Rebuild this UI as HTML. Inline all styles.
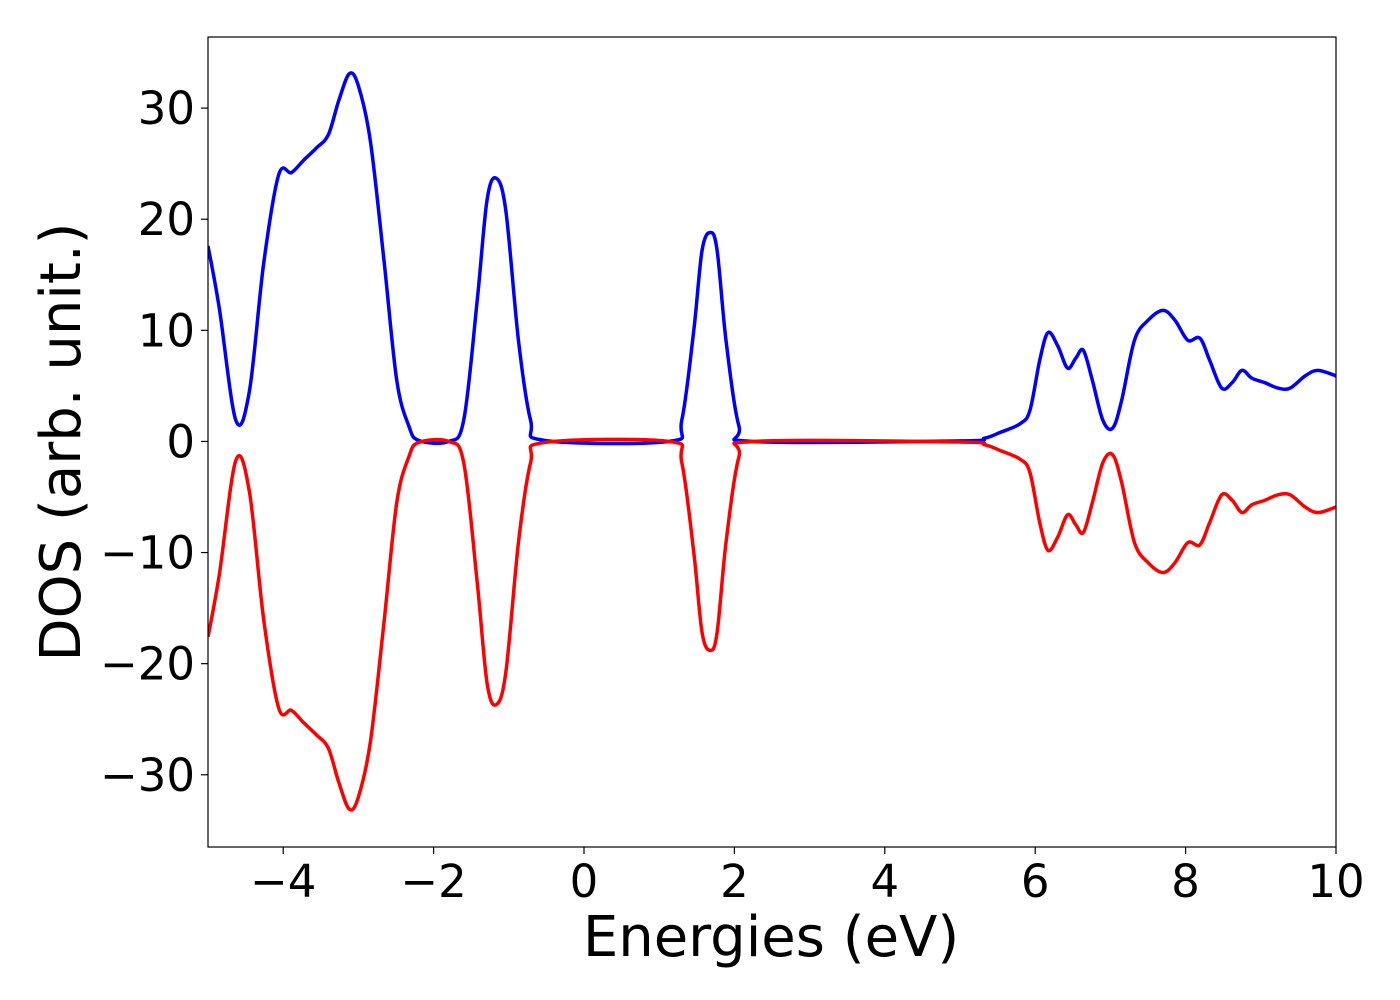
<!DOCTYPE html>
<html><head><meta charset="utf-8"><style>
body{margin:0;background:#fff}
svg{display:block;font-family:"DejaVu Sans","Liberation Sans",sans-serif}
</style></head><body>
<svg id="chart" width="1400" height="1000" viewBox="0 0 1400 1000"></svg>
<script>
const energies=[-5,-4.85,-4.63,-4.45,-4.26,-4.06,-3.89,-3.73,-3.56,-3.4,-3.26,-3.12,-3.0,-2.84,-2.66,-2.49,-2.33,-2.2,-1.8,-1.6,-1.42,-1.29,-1.17,-1.04,-0.87,-0.71,-0.53,1.13,1.3,1.46,1.57,1.68,1.77,1.89,2.06,2.26,5.0,5.33,5.53,5.8,5.93,6.06,6.17,6.3,6.43,6.54,6.64,6.76,6.9,7.03,7.15,7.32,7.5,7.7,7.86,8.03,8.19,8.32,8.48,8.62,8.75,8.88,9.05,9.23,9.39,9.59,9.76,10];
const dosUp=[17.6,12,1.9,4.5,16,24,24.2,25.3,26.4,27.6,30.7,33.1,32,27,16.3,5.5,1.4,0.1,0,1.9,12.7,21.7,23.7,20.8,9,1.9,0.1,0,1.9,10,17.2,18.8,17.2,9,1.4,0,0.05,0.3,0.8,1.6,2.8,7.3,9.8,8.6,6.6,7.5,8.2,5.5,1.9,1.2,3.7,9.1,10.9,11.8,10.9,9.1,9.3,7.3,4.8,5.3,6.4,5.7,5.3,4.8,4.8,5.9,6.4,5.9];
const dosDown=[-17.6,-12,-1.7,-4.5,-16,-24,-24.2,-25.3,-26.4,-27.6,-30.7,-33.1,-32,-27,-16.3,-5.5,-1.4,-0.1,0,-1.9,-12.7,-21.7,-23.7,-20.8,-9,-1.9,-0.1,0,-1.9,-10,-17.2,-18.8,-17.2,-9,-1.4,0,-0.05,-0.3,-0.8,-1.6,-2.8,-7.3,-9.8,-8.6,-6.6,-7.5,-8.2,-5.5,-1.9,-1.2,-3.7,-9.1,-10.9,-11.8,-10.9,-9.1,-9.3,-7.3,-4.8,-5.3,-6.4,-5.7,-5.3,-4.8,-4.8,-5.9,-6.4,-5.9];
const xTicks=[-4,-2,0,2,4,6,8,10];
const yTicks=[-30,-20,-10,0,10,20,30];
const L=208,R=1336,T=37,B=847,xMin=-5,xMax=10,yMin=-36.5,yMax=36.4;
const sx=v=>L+(v-xMin)/(xMax-xMin)*(R-L);
const sy=v=>B-(v-yMin)/(yMax-yMin)*(B-T);
const svg=document.getElementById('chart');const NS='http://www.w3.org/2000/svg';
function mk(t,a,p){const e=document.createElementNS(NS,t);for(const k in a)e.setAttribute(k,a[k]);(p||svg).appendChild(e);return e;}
const fmt=v=>v<0?'\u2212'+Math.abs(v):String(v);
function path(ys){const P=energies.map((x,i)=>[sx(x),sy(ys[i])]);let d='M'+P[0][0]+','+P[0][1];
for(let i=0;i<P.length-1;i++){const p0=P[Math.max(0,i-1)],p1=P[i],p2=P[i+1],p3=P[Math.min(P.length-1,i+2)];
const c1=[p1[0]+(p2[0]-p0[0])/6,p1[1]+(p2[1]-p0[1])/6],c2=[p2[0]-(p3[0]-p1[0])/6,p2[1]-(p3[1]-p1[1])/6];
d+=`C${c1[0]},${c1[1]} ${c2[0]},${c2[1]} ${p2[0]},${p2[1]}`;}return d;}
const clip=mk('clipPath',{id:'c'});mk('rect',{x:L,y:T,width:R-L,height:B-T},clip);
const up=mk('path',{d:path(dosUp),fill:'none',stroke:'#0000ff','stroke-width':3.5,'clip-path':'url(#c)'});

const dn=mk('path',{d:path(dosDown),fill:'none',stroke:'#ff0000','stroke-width':3.5,'clip-path':'url(#c)'});

const frame=mk('rect',{x:L,y:T,width:R-L,height:B-T,fill:'none',stroke:'#000','stroke-width':1.2});

xTicks.forEach(v=>{const x=sx(v);mk('line',{x1:x,y1:B,x2:x,y2:B+7,stroke:'#000','stroke-width':1.2});
const t=mk('text',{x:x,y:B+50,'font-size':45,'text-anchor':'middle'});t.textContent=fmt(v);
});
yTicks.forEach(v=>{const y=sy(v);mk('line',{x1:L-7,y1:y,x2:L,y2:y,stroke:'#000','stroke-width':1.2});
const t=mk('text',{x:L-13,y:y+16,'font-size':45,'text-anchor':'end'});t.textContent=fmt(v);
});
const xl=mk('text',{x:771,y:956,'font-size':56,'text-anchor':'middle'});xl.textContent='Energies (eV)';

const yl=mk('text',{x:0,y:0,'font-size':56,'text-anchor':'middle',transform:'translate(80,442) rotate(-90)'});yl.textContent='DOS (arb. unit.)';

</script>
</body></html>
